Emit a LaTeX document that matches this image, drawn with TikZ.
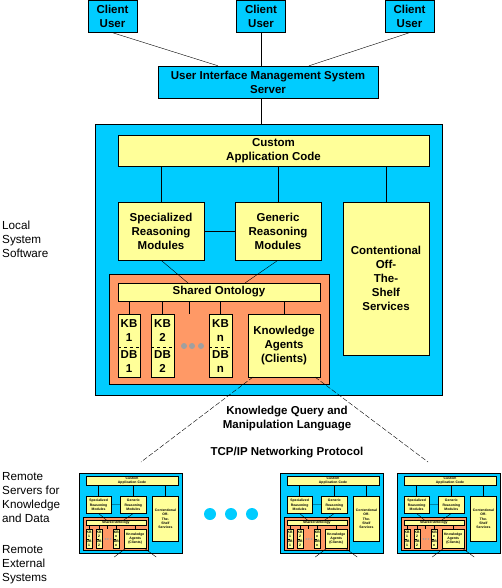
\documentclass[tikz,border=0pt]{standalone}
\usepackage{fontspec}
\setmainfont{Liberation Sans}
\usetikzlibrary{calc}

\definecolor{sysblue}{RGB}{0,204,255}
\definecolor{modyellow}{RGB}{255,255,153}
\definecolor{ontoorange}{RGB}{255,153,102}
\definecolor{dotgrey}{RGB}{160,160,160}

% one knowledge system, drawn in its own box coordinates (0,0)-(347,271)
\newcommand\kbsystem[1]{%
\draw (173.5,135.5) node[sysbox] (#1sys) {};
\draw (178.5,26.5) node[modbox, minimum width=311pt, minimum height=31pt] (#1app) {Custom\\Application Code};
\draw (66,107) node[modbox, minimum width=86pt, minimum height=58pt] (#1spec) {Specialized\\Reasoning\\Modules};
\draw (183,107) node[modbox, minimum width=86pt, minimum height=58pt] (#1gen) {Generic\\Reasoning\\Modules};
\draw (291,154.5) node[modbox, minimum width=86pt, minimum height=153pt] (#1cots) {Contentional\\Off-\\The-\\Shelf\\Services};

\draw (#1spec.north |- #1app.south) -- (#1spec.north);
\draw (#1gen.north |- #1app.south) -- (#1gen.north);
\draw (#1cots.north |- #1app.south) -- (#1cots.north);
\draw (#1spec) -- (#1gen);

% ontology block
\draw (124,205) node[ontobox] (#1block) {};
\draw (124,168) node[modbox, minimum width=202pt, minimum height=18pt] (#1onto) {Shared Ontology};
\coordinate (#1ontoL) at (93,159);
\coordinate (#1ontoR) at (150,159);
\draw (#1spec.south) -- (#1ontoL);
\draw (#1gen.south) -- (#1ontoR);

\foreach \n/\x in {1/34,2/67.5,n/125.5} {
  \draw (\x,206.5) node[cell, minimum height=33pt] (#1kb\n) {KB\\\n};
  \draw (\x,238) node[cell, minimum height=30pt] (#1db\n) {DB\\\n};
  \draw (#1kb\n.north west) rectangle (#1db\n.south east);
  \draw[dashed] (#1kb\n.south west) -- (#1kb\n.south east);
  \draw (#1kb\n.north |- #1onto.south) -- (#1kb\n.north);
}
\foreach \x in {89,97,106} \fill[dotgrey] (\x,222) circle (3pt);
\coordinate (#1tick) at (94,190);
\draw (#1tick |- #1onto.south) -- (#1tick);

\draw (189,221.5) node[modbox, minimum width=72pt, minimum height=63pt] (#1agents) {Knowledge\\Agents\\(Clients)};
\draw (#1agents.north |- #1onto.south) -- (#1agents.north);
\coordinate (#1agL) at (158,253);
\coordinate (#1agR) at (220,253);
\coordinate (#1stubL) at (118.5,283);
\coordinate (#1stubR) at (260,283);
}

\begin{document}
\begin{tikzpicture}[x=1pt,y=-1pt]
\tikzstyle{boxfont}=[font=\bfseries\fontsize{11.5}{14}\selectfont]
\tikzstyle{topbox}=[draw, fill=sysblue, align=center, inner sep=0pt, boxfont, minimum width=49pt, minimum height=32pt]
\tikzstyle{sysbox}=[draw, fill=sysblue, minimum width=347pt, minimum height=271pt]
\tikzstyle{modbox}=[draw, fill=modyellow, align=center, inner sep=0pt, boxfont]
\tikzstyle{ontobox}=[draw, fill=ontoorange, minimum width=220pt, minimum height=110pt]
\tikzstyle{cell}=[fill=modyellow, align=center, inner sep=0pt, boxfont, minimum width=22pt]
\tikzstyle{heading}=[align=center, inner sep=0pt, boxfont]
\tikzstyle{sidetext}=[align=left, inner sep=0pt, anchor=west, font=\fontsize{11.7}{14}\selectfont]
\tikzstyle{kqmlline}=[dash pattern=on 5pt off 2pt]

\useasboundingbox (0,0) rectangle (502,588);

% clients and interface server
\draw (112.5,16.5) node[topbox] (client1) {Client\\User};
\draw (261,16.5) node[topbox] (client2) {Client\\User};
\draw (409.5,16.5) node[topbox] (client3) {Client\\User};
\draw (268,82) node[topbox, minimum width=220pt] (uims) {User Interface Management System\\Server};

\draw (client1.south) -- ($(uims.north west)!0.273!(uims.north east)$);
\draw (client2.south) -- (client2.south |- uims.north);
\draw (client3.south) -- ($(uims.north west)!0.686!(uims.north east)$);

% local system
\begin{scope}[shift={(95,124)}]
\kbsystem{m-}
\end{scope}
\draw (client2.south |- uims.south) -- (client2.south |- m-sys.north);

% remote systems
\begin{scope}[shift={(79,473)}, scale=0.297, transform shape]
\kbsystem{r1-}
\end{scope}
\begin{scope}[shift={(280,473)}, scale=0.297, transform shape]
\kbsystem{r2-}
\end{scope}
\begin{scope}[shift={(397,473)}, scale=0.297, transform shape]
\kbsystem{r3-}
\end{scope}
\foreach \s in {r1,r2,r3} {
  \draw (\s-agL) -- (\s-stubL);
  \draw (\s-agR) -- (\s-stubR);
}
\foreach \x in {210,231,252} \fill[sysblue] (\x,514) circle (6pt);

% protocol links
\coordinate (kqmlL) at (141,462);
\coordinate (kqmlR) at (428,462);
\draw[kqmlline] (m-agL) -- (kqmlL);
\draw[kqmlline] (m-agR) -- (kqmlR);

\draw (287,419) node[heading] (kqml) {Knowledge Query and\\Manipulation Language};
\draw (287,453) node[heading] (tcpip) {TCP/IP Networking Protocol};

\draw (2,239) node[sidetext] (local) {Local\\System\\Software};
\draw (2,498) node[sidetext] (remote) {Remote\\Servers for\\Knowledge\\and Data};
\draw (2,565) node[sidetext] (external) {Remote\\External\\Systems};
\end{tikzpicture}
\end{document}
